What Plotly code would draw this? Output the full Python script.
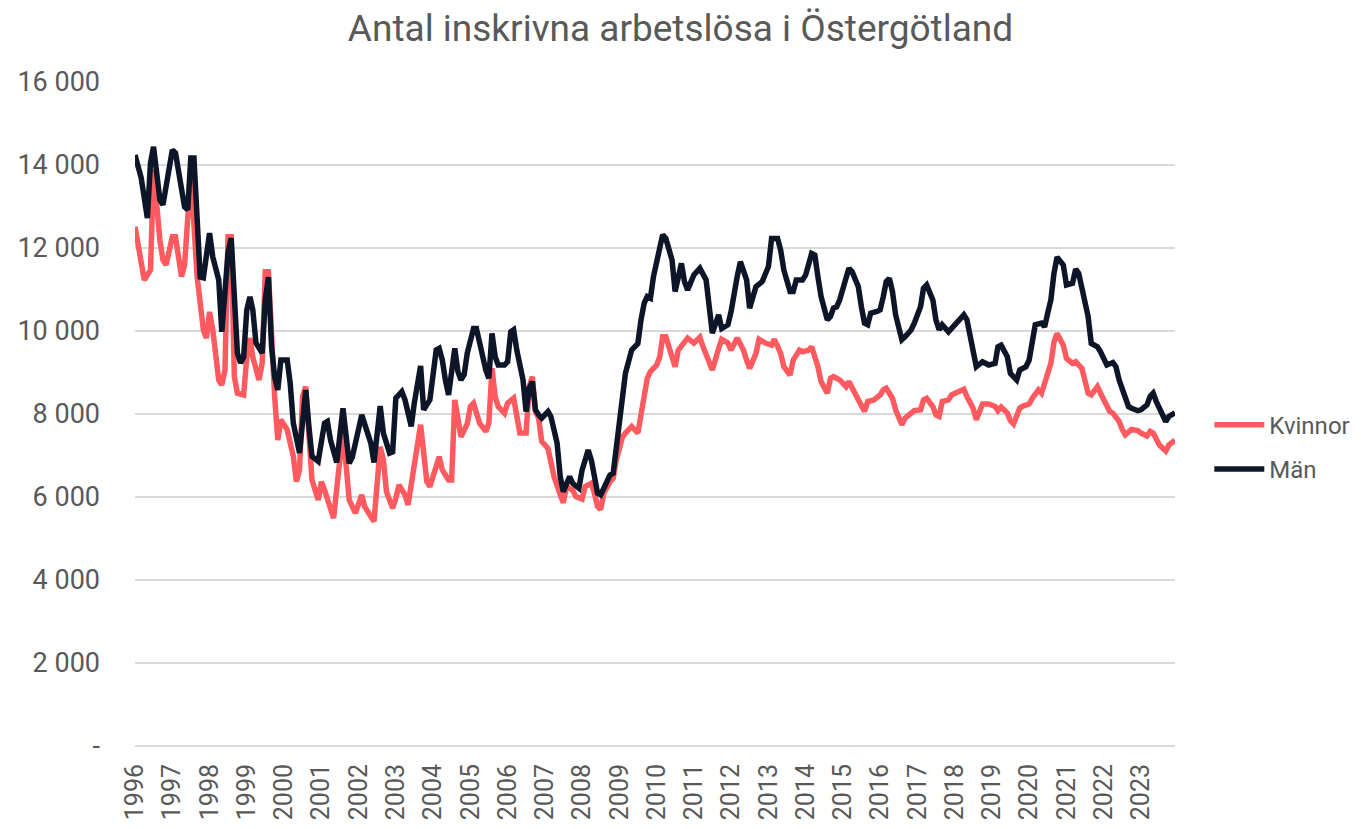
import plotly.graph_objects as go

title = "Antal inskrivna arbetslösa i Östergötland"

man_dates = [
    "1996-01","1996-03","1996-05","1996-06","1996-07","1996-09","1996-10",
    "1997-01","1997-02","1997-03","1997-05","1997-06","1997-07","1997-08","1997-09","1997-10","1997-11",
    "1998-01","1998-02","1998-04","1998-05","1998-07","1998-08","1998-09","1998-10","1998-11","1998-12",
    "1999-01","1999-02","1999-03","1999-04","1999-06","1999-07","1999-08","1999-09","1999-10","1999-11","1999-12",
    "2000-02","2000-03","2000-04","2000-06","2000-07","2000-08","2000-09","2000-10","2000-12",
    "2001-02","2001-03","2001-04","2001-06","2001-08","2001-10","2001-11",
    "2002-02","2002-03","2002-05","2002-06","2002-08","2002-09","2002-11","2002-12",
    "2003-01","2003-03","2003-04","2003-06","2003-07","2003-09","2003-10","2003-12",
    "2004-02","2004-03","2004-04","2004-05","2004-06","2004-08","2004-09","2004-10","2004-11","2004-12",
    "2005-02","2005-03","2005-04","2005-06","2005-07","2005-08","2005-09","2005-10","2005-12",
    "2006-01","2006-02","2006-03","2006-04","2006-06","2006-07","2006-08","2006-09","2006-10","2006-11","2006-12",
    "2007-02","2007-03","2007-05","2007-06","2007-07","2007-09","2007-10","2007-12",
    "2008-01","2008-03","2008-04","2008-05","2008-06","2008-07","2008-10","2008-11","2008-12",
    "2009-02","2009-03","2009-05","2009-06","2009-07","2009-08","2009-09","2009-10","2009-11","2009-12",
    "2010-02","2010-03","2010-04","2010-06","2010-07","2010-09","2010-10","2010-11",
    "2011-01","2011-03","2011-05","2011-06","2011-07","2011-09","2011-10","2011-12",
    "2012-01","2012-03","2012-04","2012-06","2012-07","2012-09","2012-10","2012-11",
    "2013-01","2013-02","2013-04","2013-05","2013-06","2013-08","2013-09","2013-10","2013-12",
    "2014-01","2014-03","2014-04","2014-05","2014-06","2014-08","2014-09","2014-10","2014-11","2014-12",
    "2015-02","2015-03","2015-04","2015-06","2015-07","2015-08","2015-09","2015-10","2015-12",
    "2016-01","2016-02","2016-03","2016-04","2016-05","2016-06","2016-08","2016-09","2016-11","2016-12",
    "2017-02","2017-03","2017-04","2017-06","2017-07","2017-08","2017-09","2017-11","2017-12",
    "2018-02","2018-04","2018-05","2018-06","2018-07","2018-08","2018-10","2018-12",
    "2019-02","2019-03","2019-04","2019-06","2019-07","2019-09","2019-10","2019-12",
    "2020-01","2020-02","2020-03","2020-05","2020-06","2020-07","2020-08","2020-09","2020-10","2020-12",
    "2021-01","2021-03","2021-04","2021-05","2021-06","2021-08","2021-09","2021-11","2021-12",
    "2022-01","2022-02","2022-04","2022-05","2022-06","2022-08","2022-09","2022-10","2022-12",
    "2023-01","2023-03","2023-04","2023-05","2023-06","2023-08","2023-09","2023-10","2023-12",
]
man_values = [
    14240,13700,12720,14050,14440,13160,13040,
    14360,14290,13810,12990,12920,14170,14170,12850,11300,11280,
    12360,11790,11230,9980,11880,12240,10580,9470,9230,9370,
    10510,10820,10510,9710,9470,10750,11300,9620,8890,8580,9300,
    9300,8750,7780,7060,7780,8580,7700,6980,6860,
    7780,7820,7370,6830,8140,6810,6970,
    7980,7780,7300,6830,8190,7540,7060,7090,
    8380,8540,8340,7700,8260,9160,8100,8340,
    9540,9580,9300,8820,8460,9580,9020,8820,8950,9460,
    10060,10060,9700,9060,8860,9940,9380,9180,9180,
    9260,9980,10030,9540,8820,8060,8620,8780,8100,7980,7900,
    8060,7940,7300,6490,6130,6490,6330,6210,
    6650,7130,6890,6410,6090,6050,6530,6570,7210,
    8420,8980,9540,9620,9700,10270,10670,10830,10790,11310,
    11950,12320,12230,11710,10950,11630,11190,10990,
    11350,11510,11230,10670,9950,10390,10060,10150,
    10470,11310,11670,11230,10550,11070,11150,11190,
    11550,12230,12230,11950,11470,10950,10950,11230,11230,
    11350,11870,11830,11310,10830,10270,10350,10550,10580,10750,
    11230,11510,11430,11070,10590,10190,10150,10430,10470,
    10510,10830,11190,11270,10950,10390,9790,9860,10030,10190,
    10590,11030,11110,10750,10270,10030,10150,9980,10060,
    10190,10390,10270,9860,9460,9140,9260,9180,
    9220,9620,9660,9380,8980,8820,9060,9140,
    9300,9700,10150,10190,10100,10430,10750,11400,11780,11590,
    11110,11150,11490,11390,10990,10350,9700,9620,9500,
    9300,9180,9240,9140,8820,8340,8180,8140,8080,
    8100,8220,8420,8500,8300,7940,7820,7940,8030,
]

kvinnor_dates = [
    "1996-01","1996-02","1996-04","1996-06","1996-07","1996-09","1996-10","1996-11",
    "1997-01","1997-02","1997-03","1997-04","1997-05","1997-07","1997-09","1997-10","1997-11","1997-12",
    "1998-01","1998-02","1998-03","1998-04","1998-05","1998-06","1998-07","1998-08","1998-09","1998-10","1998-12",
    "1999-01","1999-02","1999-03","1999-05","1999-06","1999-07","1999-08","1999-10","1999-11","1999-12",
    "2000-02","2000-04","2000-05","2000-06","2000-07","2000-08","2000-09","2000-10","2000-12",
    "2001-01","2001-02","2001-04","2001-05","2001-08","2001-10","2001-12",
    "2002-02","2002-03","2002-05","2002-06","2002-08","2002-09","2002-10","2002-12",
    "2003-01","2003-02","2003-04","2003-05","2003-09","2003-10","2003-11","2003-12",
    "2004-02","2004-03","2004-04","2004-06","2004-07","2004-08","2004-10","2004-11","2004-12",
    "2005-01","2005-02","2005-04","2005-06","2005-07","2005-08","2005-09","2005-10","2005-12",
    "2006-01","2006-03","2006-04","2006-05","2006-07","2006-08","2006-09","2006-10","2006-11","2006-12",
    "2007-02","2007-03","2007-04","2007-06","2007-07","2007-08","2007-10","2007-11",
    "2008-01","2008-02","2008-04","2008-05","2008-06","2008-07","2008-08","2008-10","2008-11","2008-12",
    "2009-02","2009-03","2009-05","2009-07","2009-08","2009-09","2009-10","2009-11",
    "2010-01","2010-02","2010-03","2010-04","2010-06","2010-07","2010-08","2010-10","2010-11",
    "2011-01","2011-03","2011-04","2011-06","2011-07","2011-09","2011-10","2011-12",
    "2012-01","2012-03","2012-05","2012-06","2012-07","2012-09","2012-10","2012-12",
    "2013-02","2013-03","2013-04","2013-05","2013-06","2013-08","2013-09","2013-11","2013-12",
    "2014-02","2014-03","2014-04","2014-05","2014-06","2014-08","2014-09","2014-10","2014-12",
    "2015-02","2015-03","2015-04","2015-06","2015-08","2015-09","2015-11",
    "2016-01","2016-02","2016-03","2016-05","2016-06","2016-08","2016-09","2016-11","2016-12",
    "2017-02","2017-03","2017-04","2017-06","2017-07","2017-08","2017-09","2017-11","2017-12",
    "2018-02","2018-04","2018-05","2018-07","2018-08","2018-09","2018-10","2018-12",
    "2019-02","2019-03","2019-04","2019-06","2019-07","2019-08","2019-10","2019-11",
    "2020-01","2020-02","2020-04","2020-05","2020-06","2020-08","2020-09","2020-10","2020-12",
    "2021-01","2021-03","2021-04","2021-06","2021-07","2021-08","2021-09","2021-11","2021-12",
    "2022-02","2022-03","2022-04","2022-06","2022-07","2022-08","2022-10","2022-12",
    "2023-01","2023-03","2023-04","2023-05","2023-07","2023-09","2023-10","2023-12",
]
kvinnor_values = [
    12510,12030,11230,11470,13900,12190,11710,11590,
    12270,12270,11710,11310,11590,13800,11310,10680,10030,9830,
    10460,10030,9300,8820,8700,9060,12270,12270,8900,8500,8460,
    9370,9830,9370,8820,9230,11430,11430,8420,7370,7860,
    7620,6980,6370,6650,8420,8660,7700,6410,5930,
    6370,6170,5690,5490,7600,5930,5610,
    6050,5770,5490,5410,7210,6890,6130,5730,
    5970,6290,6050,5810,7740,6970,6370,6250,
    6810,6970,6650,6410,6410,8340,7450,7650,7760,
    8180,8260,7780,7580,7780,9100,8420,8180,8020,
    8260,8380,8020,7540,7540,8660,8900,8060,7900,7340,
    7170,6890,6490,6050,5860,6250,6170,6010,
    5950,6250,6330,6090,5770,5700,6090,6370,6450,6890,
    7450,7540,7700,7540,8020,8600,8860,9020,
    9180,9380,9860,9860,9380,9140,9540,9750,9830,
    9710,9850,9620,9220,9060,9580,9800,9710,
    9540,9830,9540,9300,9100,9460,9800,9710,
    9660,9800,9620,9460,9140,8940,9300,9540,9500,
    9540,9620,9420,9140,8780,8500,8860,8900,8820,
    8660,8780,8620,8380,8060,8300,8340,
    8460,8580,8620,8380,8100,7740,7900,8020,8080,
    8100,8340,8380,8180,7980,7940,8300,8340,8460,
    8540,8600,8420,8140,7860,8020,8240,8240,
    8180,8080,8170,8020,7840,7760,8140,8190,
    8240,8380,8580,8500,8780,9220,9740,9940,9660,
    9340,9220,9260,9100,8820,8500,8460,8660,8500,
    8220,8060,8020,7820,7630,7500,7630,7600,
    7540,7470,7580,7540,7250,7110,7250,7370,
]

years = [str(y) for y in range(1996, 2024)]
y_ticks = [0, 2000, 4000, 6000, 8000, 10000, 12000, 14000, 16000]
y_labels = ["-", "2 000", "4 000", "6 000", "8 000", "10 000", "12 000", "14 000", "16 000"]

RED = "#FF5A5F"
NAVY = "#0D1628"
GREY = "#595959"
FONT = "Roboto, 'Open Sans', sans-serif"

fig = go.Figure()
fig.add_trace(go.Scatter(
    x=[d + "-01" for d in kvinnor_dates], y=kvinnor_values, name="Kvinnor",
    legendgroup="k", mode="lines", line=dict(color=RED, width=5.5)))
fig.add_trace(go.Scatter(
    x=[d + "-01" for d in man_dates], y=man_values, name="Män",
    legendgroup="m", mode="lines", line=dict(color=NAVY, width=5.5)))

W, H = 1345, 813
fig.update_layout(
    width=W, height=H,
    paper_bgcolor="white", plot_bgcolor="white",
    margin=dict(l=127, r=W - 127 - 1040, t=74, b=H - 74 - 664, autoexpand=False),
    font=dict(family=FONT, size=26, color=GREY),
    title=dict(text=title, x=0.5, xanchor="center", y=1 - 20 / H, yanchor="middle",
               font=dict(family=FONT, size=37, color=GREY)),
    showlegend=True,
    legend=dict(x=1.033, xanchor="left", y=0.45, yanchor="middle",
                font=dict(family=FONT, size=24, color=GREY),
                itemwidth=50, bgcolor="rgba(0,0,0,0)", tracegroupgap=10),
)
fig.update_xaxes(
    type="date", range=["1996-01-01", "2023-12-01"],
    tickvals=[y + "-01-01" for y in years], ticktext=years,
    tickangle=-90, showgrid=False, zeroline=False, showline=False,
    ticks="", ticklabelstandoff=12, automargin=False,
    tickfont=dict(family=FONT, size=25, color=GREY),
)
fig.update_yaxes(
    range=[0, 16000], tickvals=y_ticks, ticktext=y_labels,
    showgrid=True, gridcolor="#D9D9D9", gridwidth=1.5,
    zeroline=True, zerolinecolor="#D9D9D9", zerolinewidth=1.5,
    showline=False, ticks="", ticklabelstandoff=34, automargin=False,
    tickfont=dict(family=FONT, size=27, color=GREY),
)

fig.write_html("out.html")
